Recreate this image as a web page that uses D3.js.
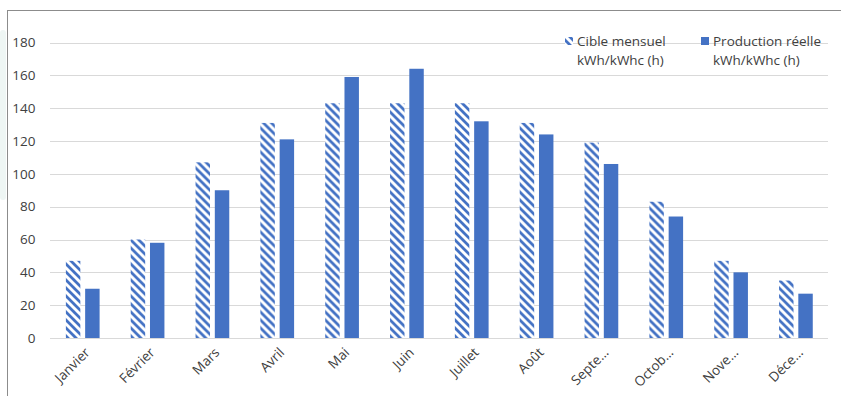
<!DOCTYPE html>
<html>
<head>
<meta charset="utf-8">
<script src="https://cdn.jsdelivr.net/npm/d3@7"></script>
<style>
  html, body { margin: 0; padding: 0; background: #ffffff; }
  svg { display: block; }
  text { font-family: "Open Sans", "Noto Sans", sans-serif; }
</style>
</head>
<body>
<svg id="chart" width="841" height="396"></svg>
<script>
// Monthly categories (as displayed on the axis)
const months = ["Janvier", "Février", "Mars", "Avril", "Mai", "Juin", "Juillet", "Août", "Septe…", "Octob…", "Nove…", "Déce…"];
// Target monthly yield, kWh/kWc (h)
const cibleMensuel = [47, 60, 107, 131, 143, 143, 143, 131, 119, 83, 47, 35];
// Actual production, kWh/kWc (h)
const productionReelle = [30, 58, 90, 121, 159, 164, 132, 124, 106, 74, 40, 27];
// Y axis ticks
const yTicks = [0, 20, 40, 60, 80, 100, 120, 140, 160, 180];
const seriesKeys = ["cible", "prod"];
const seriesLabels = [["Cible mensuel", "kWh/kWhc (h)"], ["Production réelle", "kWh/kWhc (h)"]];

const blue = "#4472C4";
const textColor = "#404040";
const svg = d3.select("#chart");

// Wide downward-diagonal hatch for the target series
const defs = svg.append("defs");
const pat = defs.append("pattern")
  .attr("id", "hatch")
  .attr("patternUnits", "userSpaceOnUse")
  .attr("width", 8).attr("height", 8);
pat.append("rect").attr("width", 8).attr("height", 8).attr("fill", "#ffffff");
pat.append("path")
  .attr("d", "M-2,-2 L10,10 M-6,2 L2,10 M6,-2 L14,6")
  .attr("stroke", blue).attr("stroke-width", 2.8);

// Faint background shape on the far left edge
svg.append("rect").attr("x", 0).attr("y", 30).attr("width", 6).attr("height", 170)
  .attr("rx", 3).attr("fill", "#eef6f4");

// Chart frame (top and left edges)
svg.append("line").attr("x1", 7).attr("x2", 841).attr("y1", 10.5).attr("y2", 10.5)
  .attr("stroke", "#8c8c8c").attr("stroke-width", 1);
svg.append("line").attr("x1", 7.5).attr("x2", 7.5).attr("y1", 10).attr("y2", 396)
  .attr("stroke", "#8c8c8c").attr("stroke-width", 1);

const x0 = d3.scaleBand().domain(months).range([50, 828]).paddingInner(0).paddingOuter(0);
const bw = x0.bandwidth();
const x1 = d3.scaleBand().domain(seriesKeys).range([bw * 0.245, bw * 0.765]).paddingInner(0.25).paddingOuter(0);
const y = d3.scaleLinear().domain([0, 180]).range([338, 42.5]);

// Gridlines
svg.append("g").selectAll("line").data(yTicks).join("line")
  .attr("x1", 50).attr("x2", 828)
  .attr("y1", d => Math.round(y(d)) + 0.5).attr("y2", d => Math.round(y(d)) + 0.5)
  .attr("stroke", "#d9d9d9").attr("stroke-width", 1);

// Y axis labels
const yAxis = d3.axisLeft(y).tickValues(yTicks).tickSize(0).tickPadding(0);
const gy = svg.append("g").attr("transform", "translate(35.5,0)").call(yAxis);
gy.select(".domain").remove();
gy.selectAll("text").attr("font-size", 13.5).attr("fill", textColor)
  .attr("font-family", "'Open Sans', 'Noto Sans', sans-serif");

// Bars
const rows = months.map((m, i) => ({ m, cible: cibleMensuel[i], prod: productionReelle[i] }));
const groups = svg.append("g").selectAll("g").data(rows).join("g")
  .attr("transform", d => `translate(${x0(d.m)},0)`);
groups.append("rect")
  .attr("x", x1("cible")).attr("width", x1.bandwidth())
  .attr("y", d => y(d.cible)).attr("height", d => y(0) - y(d.cible))
  .attr("fill", "url(#hatch)");
groups.append("rect")
  .attr("x", x1("prod")).attr("width", x1.bandwidth())
  .attr("y", d => y(d.prod)).attr("height", d => y(0) - y(d.prod))
  .attr("fill", blue);

// X axis labels, rotated
const xAxis = d3.axisBottom(x0).tickSize(0).tickPadding(0);
const gx = svg.append("g").call(xAxis);
gx.select(".domain").remove();
gx.selectAll(".tick").attr("transform", d => `translate(${x0(d) + bw / 2 + 5},350)`);
gx.selectAll("text")
  .attr("y", 0).attr("dy", "0.35em").attr("x", 0)
  .attr("text-anchor", "end")
  .attr("transform", "rotate(-45)")
  .attr("font-size", 13.5).attr("fill", textColor)
  .attr("font-family", "'Open Sans', 'Noto Sans', sans-serif");

// Legend
const legendX = [565, 701];
const lg = svg.append("g").selectAll("g").data(seriesKeys).join("g")
  .attr("transform", (d, i) => `translate(${legendX[i]},0)`);
lg.append("rect").attr("x", 0).attr("y", 37).attr("width", 8).attr("height", 8)
  .attr("fill", d => d === "cible" ? "url(#hatch)" : blue);
lg.each(function (d, i) {
  const t = d3.select(this).append("text").attr("x", 12).attr("y", 46)
    .attr("font-size", 13.5).attr("fill", textColor);
  t.append("tspan").attr("x", 12).text(seriesLabels[i][0]);
  t.append("tspan").attr("x", 12).attr("dy", 19).text(seriesLabels[i][1]);
});
</script>
</body>
</html>
